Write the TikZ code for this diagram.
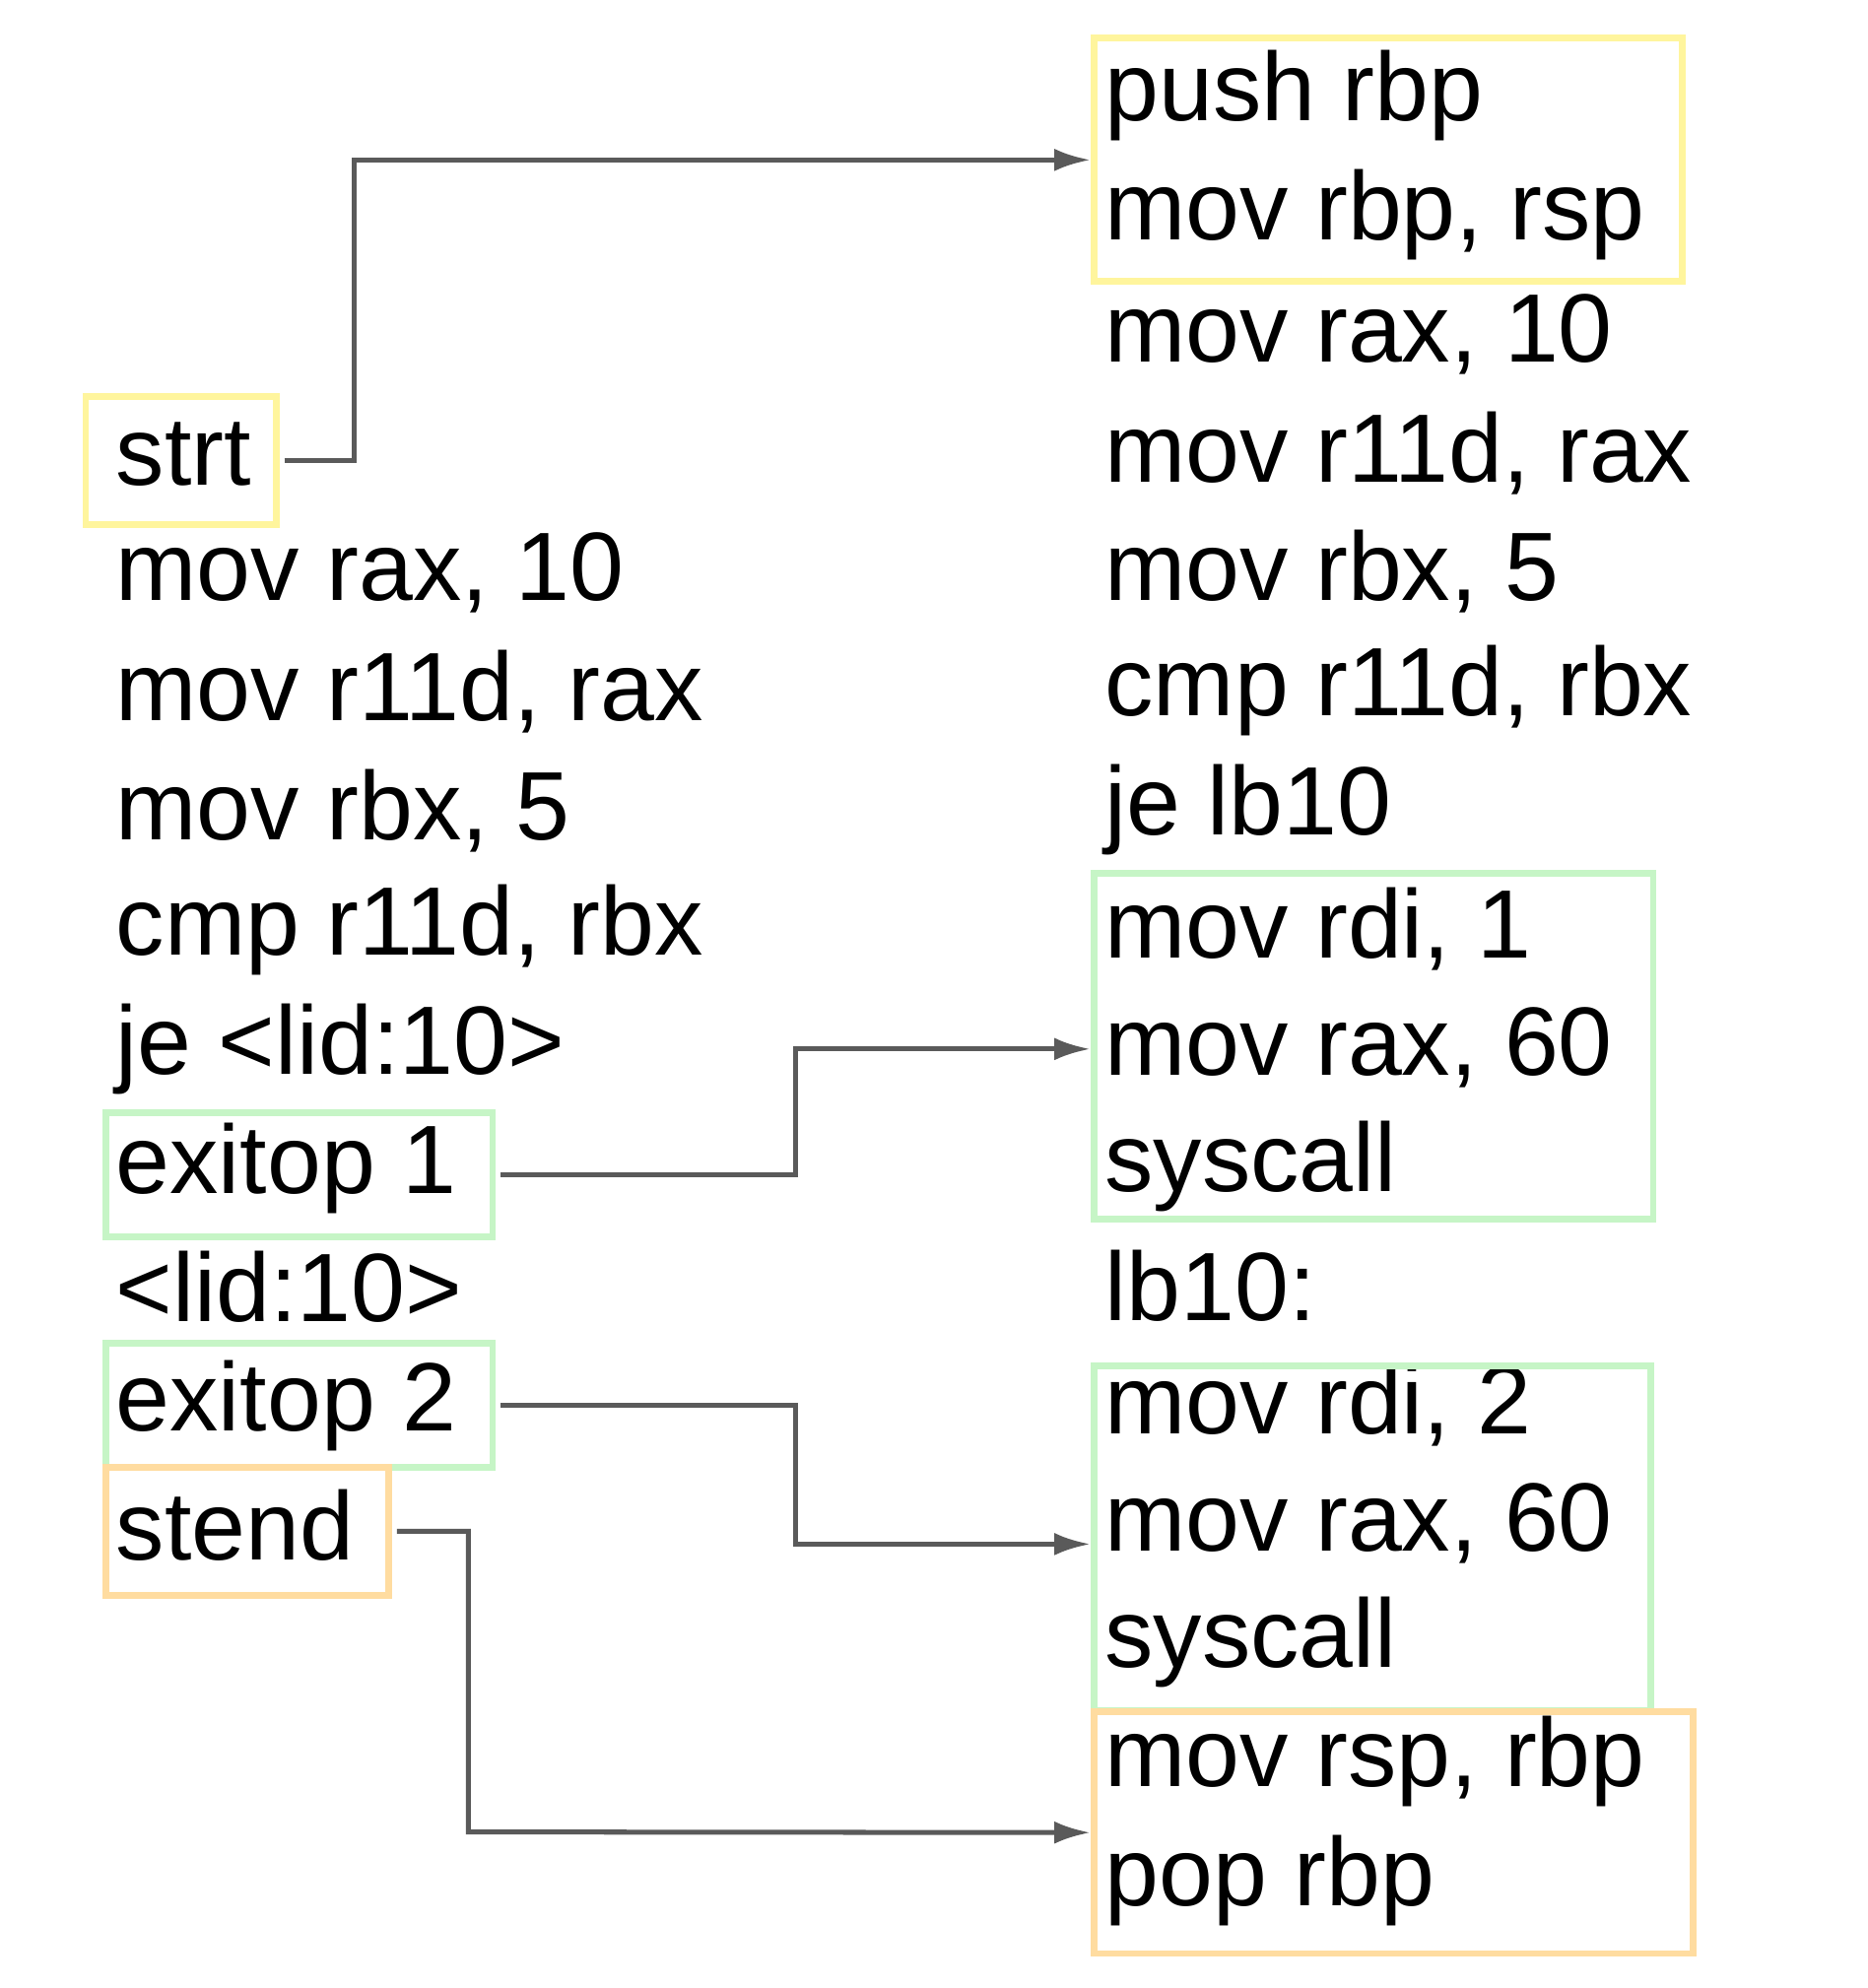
\documentclass[tikz,border=0pt]{standalone}
\usepackage{fontspec}
\setmainfont{Liberation Sans}
\usetikzlibrary{arrows.meta}
\definecolor{boxyellow}{HTML}{FFF59D}
\definecolor{boxgreen}{HTML}{C6F5C6}
\definecolor{boxorange}{HTML}{FFDCA0}
\definecolor{linkgray}{HTML}{5A5A5A}
\begin{document}
\begin{tikzpicture}[x=0.01cm,y=-0.01cm,
    codeline/.style={anchor=west, inner sep=0pt, font=\fontsize{21.6}{26}\selectfont},
    markbox/.style={draw=#1, line width=1.5pt, inner sep=0pt},
    link/.style={draw=linkgray, line width=1.1pt, -{Latex[length=8pt,width=5pt]}}]
    \useasboundingbox (0,0) rectangle (1460,1554);

    % Left listing
    \foreach \t [count=\i] in {strt, {mov rax, 10}, {mov r11d, rax}, {mov rbx, 5},
        {cmp r11d, rbx}, {je <lid:10>}, {exitop 1}, {<lid:10>}, {exitop 2}, stend} {
        \node[codeline] (l\i) at (90, 262+93*\i) {\t};
    }

    % Right listing
    \foreach \t [count=\i] in {push rbp, {mov rbp, rsp}, {mov rax, 10}, {mov r11d, rax},
        {mov rbx, 5}, {cmp r11d, rbx}, {je lb10}, {mov rdi, 1}, {mov rax, 60}, syscall,
        lb10:, {mov rdi, 2}, {mov rax, 60}, syscall, {mov rsp, rbp}, pop rbp} {
        \node[codeline] (r\i) at (863, -18+93*\i) {\t};
    }

    % Boxes
    \node[markbox=boxyellow, minimum width=1.49cm, minimum height=1.0cm] (bstrt) at (141.5,360) {};
    \node[markbox=boxgreen, minimum width=3.02cm, minimum height=0.97cm] (bexit1) at (234,918.5) {};
    \node[markbox=boxgreen, minimum width=3.02cm, minimum height=0.97cm] (bexit2) at (234,1098.5) {};
    \node[markbox=boxorange, minimum width=2.21cm, minimum height=1.0cm] (bstend) at (193.5,1197) {};
    \node[markbox=boxyellow, minimum width=4.6cm, minimum height=1.9cm] (bpro) at (1085,125) {};
    \node[markbox=boxgreen, minimum width=4.37cm, minimum height=2.7cm] (bsys1) at (1073.5,818) {};
    \node[markbox=boxgreen, minimum width=4.35cm, minimum height=2.69cm] (bsys2) at (1072.5,1202.5) {};
    \node[markbox=boxorange, minimum width=4.68cm, minimum height=1.89cm] (bepi) at (1089,1432.5) {};

    % Links
    \draw[link] ([xshift=1pt]bstrt.east) -| (277,125) -- (bpro.west);
    \draw[link] ([xshift=1pt]bexit1.east) -| (622,820) -- (bsys1.west |- 0,820);
    \draw[link] ([xshift=1pt]bexit2.east) -| (622,1207) -- (bsys2.west |- 0,1207);
    \draw[link] ([xshift=1pt]bstend.east) -| (366,1432) -- (bepi.west);
\end{tikzpicture}
\end{document}
